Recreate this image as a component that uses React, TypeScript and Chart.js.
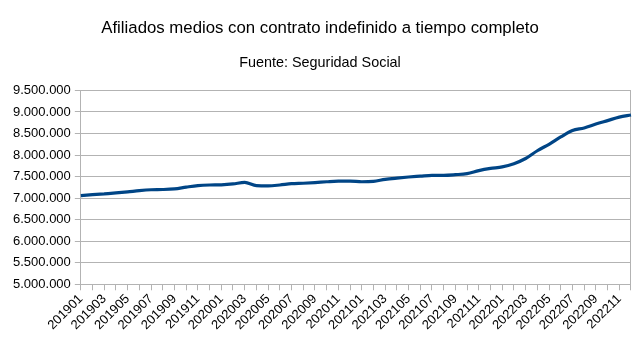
import React, { useEffect, useRef } from "react";
import { Chart, registerables } from "chart.js";

Chart.register(...registerables);

const months: string[] = [
  "201901","201902","201903","201904","201905","201906","201907","201908","201909","201910","201911","201912",
  "202001","202002","202003","202004","202005","202006","202007","202008","202009","202010","202011","202012",
  "202101","202102","202103","202104","202105","202106","202107","202108","202109","202110","202111","202112",
  "202201","202202","202203","202204","202205","202206","202207","202208","202209","202210","202211","202212",
];

const afiliados: number[] = [
  7060000, 7080000, 7100000, 7120000, 7145000, 7175000, 7195000, 7200000, 7215000, 7255000, 7290000, 7305000,
  7310000, 7330000, 7365000, 7290000, 7285000, 7305000, 7335000, 7345000, 7360000, 7380000, 7395000, 7395000,
  7380000, 7390000, 7435000, 7465000, 7490000, 7510000, 7530000, 7530000, 7545000, 7570000, 7640000, 7690000,
  7725000, 7800000, 7920000, 8100000, 8250000, 8420000, 8570000, 8630000, 8720000, 8800000, 8880000, 8930000,
];

const yMin = 5000000;
const yMax = 9500000;
const yStep = 500000;

const titleText = "Afiliados medios con contrato indefinido a tiempo completo";
const subtitleText = "Fuente: Seguridad Social";

const FONT = "'Liberation Sans', Arial, sans-serif";

function fmt(v: number): string {
  return Math.round(v).toString().replace(/\B(?=(\d{3})+(?!\d))/g, ".");
}

export default function App() {
  const ref = useRef<HTMLCanvasElement | null>(null);
  useEffect(() => {
    document.body.style.margin = "0";
    const ctx = ref.current!.getContext("2d")!;
    const chart = new Chart(ctx, {
      type: "line",
      data: {
        labels: months,
        datasets: [
          {
            data: afiliados,
            borderColor: "#004586",
            backgroundColor: "#004586",
            borderWidth: 3.2,
            pointRadius: 0,
            tension: 0.3,
            cubicInterpolationMode: "monotone",
          },
        ],
      },
      options: {
        animation: false,
        responsive: false,
        devicePixelRatio: 1,
        layout: { padding: { left: 9, right: 12, top: 0, bottom: 6 } },
        plugins: {
          legend: { display: false },
          tooltip: { enabled: false },
          title: {
            display: true,
            text: titleText,
            color: "#000",
            font: { family: FONT, size: 16.8, weight: "normal" },
            padding: { top: 18, bottom: 16 },
          },
          subtitle: {
            display: true,
            text: subtitleText,
            color: "#000",
            font: { family: FONT, size: 14.4, weight: "normal" },
            padding: { top: 0, bottom: 19 },
          },
        },
        scales: {
          x: {
            offset: false,
            grid: {
              color: (c: any) => (c.index === months.length - 1 ? "#b3b3b3" : "rgba(0,0,0,0)"),
              tickColor: "#b3b3b3",
              tickLength: 6,
              lineWidth: 1,
            },
            border: { color: "#b3b3b3" },
            ticks: {
              autoSkip: false,
              maxRotation: 45,
              minRotation: 45,
              padding: 1,
              color: "#000",
              font: { family: FONT, size: 13 },
              callback: (_v: any, i: number) => (i % 2 === 0 ? months[i] : ""),
            },
          },
          y: {
            min: yMin,
            max: yMax,
            grid: { color: "#b3b3b3", tickColor: "#b3b3b3", tickLength: 6 },
            border: { color: "#b3b3b3" },
            ticks: {
              stepSize: yStep,
              padding: 4,
              color: "#000",
              font: { family: FONT, size: 13 },
              callback: (v: any) => fmt(Number(v)),
            },
          },
        },
      },
    } as any);
    return () => chart.destroy();
  }, []);
  return (
    <div style={{ position: "absolute", left: 0, top: 0, width: 643, height: 340, background: "#fff" }}>
      <canvas ref={ref} width={643} height={340} style={{ width: 643, height: 340 }} />
    </div>
  );
}
